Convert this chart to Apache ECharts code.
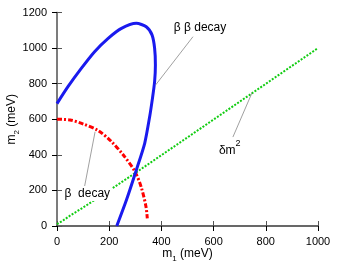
<!DOCTYPE html>
<html><head><meta charset="utf-8">
<script src="https://cdn.jsdelivr.net/npm/echarts@6/dist/echarts.min.js"></script>
<style>html,body{margin:0;padding:0;background:#fff}#c{width:345px;height:264px}</style>
</head><body><div id="c"></div>
<script>
// ---- data ----
const xTickValues = [0, 200, 400, 600, 800, 1000];
const yTickValues = [0, 200, 400, 600, 800, 1000, 1200];
const doubleBetaM1 = [0, 42, 93, 144, 196, 247, 304, 342, 364, 374, 377, 374, 366, 355, 336, 304, 266, 229];
const doubleBetaM2 = [688, 783, 886, 980, 1055, 1111, 1139, 1120, 1074, 999, 905, 811, 720, 614, 465, 315, 146, 0];
const betaM1 = [0, 50, 101, 158, 209, 254, 299, 324, 341, 346];
const betaM2 = [600, 596, 573, 536, 474, 399, 305, 212, 108, 43];
const deltaM1 = [0, 25, 50, 100, 200, 300, 500, 1000];
const deltaM2 = [10, 33, 58, 104, 200, 298, 498, 1000];
const labelBB = {text: 'β β decay', at: [548, 1117]};
const labelB = {text: 'β  decay', at: [116, 180]};
const labelDM = {text: 'δm', sup: '2', at: [662, 438]};
const leaderBB = [[521, 1064], [378, 793]];
const leaderB = [[146, 530], [106, 225]];
const leaderDM = [[747, 748], [674, 500]];

const zip = (a, b) => a.map((v, i) => [v, b[i]]);
const FONT = '"Liberation Sans", Arial, sans-serif';
const chart = echarts.init(document.getElementById('c'), null, {renderer: 'canvas'});

const nameRich = {
  m: {fontFamily: FONT, fontSize: 12, color: '#000', verticalAlign: 'top'},
  s: {fontFamily: FONT, fontSize: 8, color: '#000', verticalAlign: 'bottom', padding: [7, 0, 0, 0]}
};
const mainAxisCommon = {
  type: 'value',
  splitLine: {show: false},
  axisTick: {inside: false, length: 5, lineStyle: {color: '#000', width: 1}},
  nameTextStyle: {rich: nameRich},
  nameMoveOverlap: false
};
chart.setOption({
  animation: false,
  backgroundColor: '#fff',
  grid: {left: 57, right: 27, top: 12.5, bottom: 38, containLabel: false, outerBoundsMode: 'none'},
  xAxis: [
    Object.assign({}, mainAxisCommon, {
      min: 0, max: 1000, interval: 200, position: 'bottom',
      axisLine: {lineStyle: {color: '#000', width: 1.5}},
      axisLabel: {fontFamily: FONT, fontSize: 11, color: '#000', margin: 10, formatter: v => String(v)},
      name: '{m|m}{s|1}{m| (meV)}', nameLocation: 'middle', nameGap: 22
    }),
    {type: 'value', min: 0, max: 1000, interval: 200, position: 'top',
     splitLine: {show: false}, axisLabel: {show: false},
     axisLine: {lineStyle: {color: '#777', width: 1.5}},
     axisTick: {inside: false, length: 5, lineStyle: {color: '#555'}}}
  ],
  yAxis: [
    Object.assign({}, mainAxisCommon, {
      min: 0, max: 1200, interval: 200, position: 'left',
      axisLine: {lineStyle: {color: '#666', width: 1.5}},
      axisLabel: {fontFamily: FONT, fontSize: 11, color: '#000', margin: 10, formatter: v => String(v)},
      name: '{m|m}{s|2}{m| (meV)}', nameLocation: 'middle', nameGap: 36
    }),
    {type: 'value', min: 0, max: 1200, interval: 200, position: 'right',
     splitLine: {show: false}, axisLabel: {show: false},
     axisLine: {lineStyle: {color: '#777', width: 1.5}},
     axisTick: {inside: false, length: 5, lineStyle: {color: '#555'}}}
  ],
  series: [
    {type: 'line', data: zip(deltaM1, deltaM2), showSymbol: false, symbol: 'none', z: 2,
     lineStyle: {color: '#11cc11', width: 2, type: [2, 1.5]}},
    {type: 'line', data: zip(betaM1, betaM2), showSymbol: false, symbol: 'none', smooth: 0.3, z: 3,
     lineStyle: {color: '#ff0000', width: 3, type: [5, 2, 2, 2]}},
    {type: 'line', data: zip(doubleBetaM1, doubleBetaM2), showSymbol: false, symbol: 'none', smooth: 0.25, z: 4,
     lineStyle: {color: '#1a1aee', width: 3}}
  ]
});

const px = p => chart.convertToPixel({gridIndex: 0}, p);
function leader(seg) {
  const a = px(seg[0]), b = px(seg[1]);
  return {type: 'line', z: 50, shape: {x1: a[0], y1: a[1], x2: b[0], y2: b[1]},
          style: {stroke: '#888', lineWidth: 0.8}};
}
function label(l, bg) {
  const p = px(l.at);
  return {type: 'text', z: 60, x: p[0], y: p[1],
          style: {text: l.text, font: '12px ' + FONT, fill: '#000', align: 'center', verticalAlign: 'middle',
                  backgroundColor: bg ? '#fff' : null, padding: bg ? [1, 2] : 0}};
}
const dmp = px(labelDM.at);
chart.setOption({
  graphic: [
    leader(leaderBB), leader(leaderB), leader(leaderDM),
    label(labelBB, false), label(labelB, true),
    {type: 'text', z: 60, x: dmp[0], y: dmp[1],
     style: {text: '{a|' + labelDM.text + '}{b|' + labelDM.sup + '}', align: 'center', verticalAlign: 'middle',
             rich: {a: {fontFamily: FONT, fontSize: 12, fill: '#000', verticalAlign: 'bottom', padding: [6, 0, 0, 0]},
                    b: {fontFamily: FONT, fontSize: 9, fill: '#000', verticalAlign: 'top'}}}}
  ]
});
</script></body></html>
